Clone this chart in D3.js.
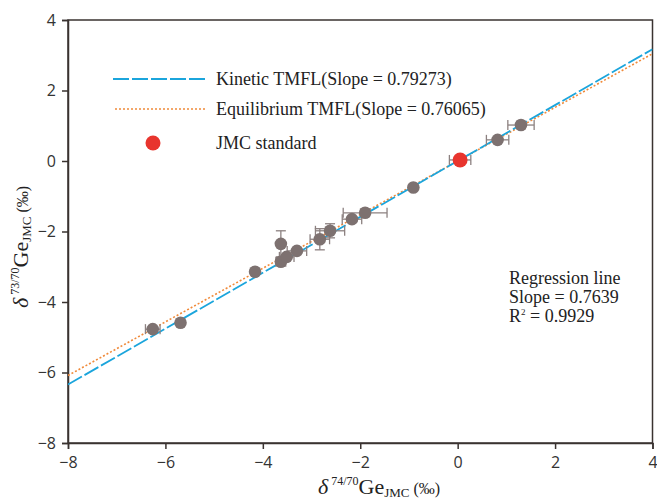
<!DOCTYPE html>
<html>
<head>
<meta charset="utf-8" />
<title>Ge isotopes</title>
<script src="https://d3js.org/d3.v7.min.js"></script>
<style>
  body { margin: 0; background: #fff; }
  .tick text { font-family: "Open Sans", "DejaVu Sans", sans-serif; font-size: 16px; fill: #333; }
  .serif { font-family: "Liberation Serif", "Times New Roman", serif; fill: #222; }
</style>
</head>
<body>
<svg width="657" height="501"></svg>
<script>
// samples: x = d74/70Ge, y = d73/70Ge, with error bars
const sampleX   = [-6.26, -5.69, -4.16, -3.63, -3.63, -3.51, -3.30, -2.83, -2.62, -2.17, -1.90, -0.91, 0.82, 1.30];
const sampleY   = [-4.77, -4.59, -3.14, -2.35, -2.86, -2.72, -2.55, -2.22, -1.98, -1.65, -1.47, -0.75, 0.60, 1.02];
const sampleXErr = [0.15, 0, 0.05, 0, 0.10, 0.15, 0.20, 0.20, 0.30, 0.20, 0.45, 0.05, 0.23, 0.27];
const sampleYErr = [0.05, 0, 0.03, 0.37, 0.10, 0.05, 0.05, 0.30, 0.20, 0.05, 0.10, 0.03, 0.03, 0.10];
const standard = { x: 0.05, y: 0.03, xerr: 0.22 };
const kineticSlope = 0.79273;
const equilibriumSlope = 0.76065;
const xTicks = [-8, -6, -4, -2, 0, 2, 4];
const yTicks = [-8, -6, -4, -2, 0, 2, 4];

const svg = d3.select("svg");
const margin = { top: 20, right: 4, bottom: 58, left: 68 };
const width = 657, height = 501;

const x = d3.scaleLinear().domain([-8, 4]).range([margin.left, width - margin.right - 0.5]);
const y = d3.scaleLinear().domain([-8, 4]).range([height - margin.bottom, margin.top]);

svg.append("clipPath").attr("id", "plot")
  .append("rect").attr("x", x(-8)).attr("y", y(4))
  .attr("width", x(4) - x(-8)).attr("height", y(-8) - y(4));

// frame
svg.append("rect")
  .attr("x", x(-8)).attr("y", y(4))
  .attr("width", x(4) - x(-8)).attr("height", y(-8) - y(4))
  .attr("fill", "none").attr("stroke", "#3a3330").attr("stroke-width", 1.5);

const xAxis = svg.append("g")
  .attr("transform", "translate(0," + y(-8) + ")")
  .call(d3.axisBottom(x).tickValues(xTicks).tickSize(6).tickPadding(8));
const yAxis = svg.append("g")
  .attr("transform", "translate(" + x(-8) + ",0)")
  .call(d3.axisLeft(y).tickValues(yTicks).tickSize(6).tickPadding(6));
[xAxis, yAxis].forEach(g => {
  g.select(".domain").attr("stroke", "#3a3330").attr("stroke-width", 1.5);
  g.selectAll(".tick line").attr("stroke", "#3a3330").attr("stroke-width", 1.5);
});

// fractionation lines
const kinDash = "16,3";
const lines = svg.append("g").attr("clip-path", "url(#plot)");
lines.append("line")
  .attr("x1", x(-8)).attr("y1", y(-8 * equilibriumSlope))
  .attr("x2", x(4)).attr("y2", y(4 * equilibriumSlope))
  .attr("stroke", "#f08a3a").attr("stroke-width", 1.6).attr("stroke-dasharray", "2,2");
lines.append("line")
  .attr("x1", x(-8)).attr("y1", y(-8 * kineticSlope))
  .attr("x2", x(4)).attr("y2", y(4 * kineticSlope))
  .attr("stroke", "#1ba5dc").attr("stroke-width", 1.8).attr("stroke-dasharray", kinDash);

// error bars
const errColor = "#8c8180";
const pts = sampleX.map((v, i) => ({ x: v, y: sampleY[i], xe: sampleXErr[i], ye: sampleYErr[i] }));
const eb = svg.append("g").attr("stroke", errColor).attr("stroke-width", 1.3);
const cap = 5;
pts.concat([{ x: standard.x, y: standard.y, xe: standard.xerr, ye: 0 }]).forEach(d => {
  if (d.xe > 0) {
    eb.append("line").attr("x1", x(d.x - d.xe)).attr("x2", x(d.x + d.xe)).attr("y1", y(d.y)).attr("y2", y(d.y));
    [d.x - d.xe, d.x + d.xe].forEach(v => eb.append("line")
      .attr("x1", x(v)).attr("x2", x(v)).attr("y1", y(d.y) - cap).attr("y2", y(d.y) + cap));
  }
  if (d.ye > 0) {
    eb.append("line").attr("x1", x(d.x)).attr("x2", x(d.x)).attr("y1", y(d.y - d.ye)).attr("y2", y(d.y + d.ye));
    [d.y - d.ye, d.y + d.ye].forEach(v => eb.append("line")
      .attr("x1", x(d.x) - cap).attr("x2", x(d.x) + cap).attr("y1", y(v)).attr("y2", y(v)));
  }
});

svg.append("g").selectAll("circle").data(pts).join("circle")
  .attr("cx", d => x(d.x)).attr("cy", d => y(d.y)).attr("r", 6.3)
  .attr("fill", "#7d7170");

svg.append("circle").attr("cx", x(standard.x)).attr("cy", y(standard.y)).attr("r", 7.5)
  .attr("fill", "#e8352e");

// legend
const legend = svg.append("g");
legend.append("line").attr("x1", 113).attr("x2", 207).attr("y1", 79).attr("y2", 79)
  .attr("stroke", "#1ba5dc").attr("stroke-width", 1.8).attr("stroke-dasharray", kinDash);
legend.append("line").attr("x1", 115).attr("x2", 207).attr("y1", 109).attr("y2", 109)
  .attr("stroke", "#f08a3a").attr("stroke-width", 1.6).attr("stroke-dasharray", "2,2");
legend.append("circle").attr("cx", 153).attr("cy", 143).attr("r", 7.5).attr("fill", "#e8352e");
const legTexts = ["Kinetic TMFL(Slope = 0.79273)", "Equilibrium TMFL(Slope = 0.76065)", "JMC standard"];
[79, 109, 143].forEach((yy, i) => legend.append("text").attr("class", "serif")
  .attr("x", 216).attr("y", yy + 6).attr("font-size", 18).text(legTexts[i]));

// regression annotation
const reg = svg.append("text").attr("class", "serif").attr("font-size", 18);
reg.append("tspan").attr("x", 509).attr("y", 284).text("Regression line");
reg.append("tspan").attr("x", 509).attr("y", 303).text("Slope = 0.7639");
const r2 = svg.append("text").attr("class", "serif").attr("font-size", 18).attr("x", 509).attr("y", 322);
r2.append("tspan").text("R");
r2.append("tspan").attr("font-size", 9).attr("dy", -7).text("2");
r2.append("tspan").attr("dy", 7).text(" = 0.9929");

// axis titles
function isoTitle(g, sup) {
  g.append("tspan").attr("font-style", "italic").attr("font-size", 22).text("δ");
  g.append("tspan").attr("font-size", 12).attr("dy", -9).text(" " + sup);
  g.append("tspan").attr("font-size", 22).attr("dy", 9).text("Ge");
  g.append("tspan").attr("font-size", 13).attr("dy", 3).text("JMC");
  g.append("tspan").attr("font-size", 16).attr("dy", -3).text(" (‰)");
}
isoTitle(svg.append("text").attr("class", "serif").attr("x", 318).attr("y", 494), "74/70");
isoTitle(svg.append("text").attr("class", "serif")
  .attr("transform", "translate(28,308) rotate(-90)"), "73/70");
</script>
</body>
</html>
